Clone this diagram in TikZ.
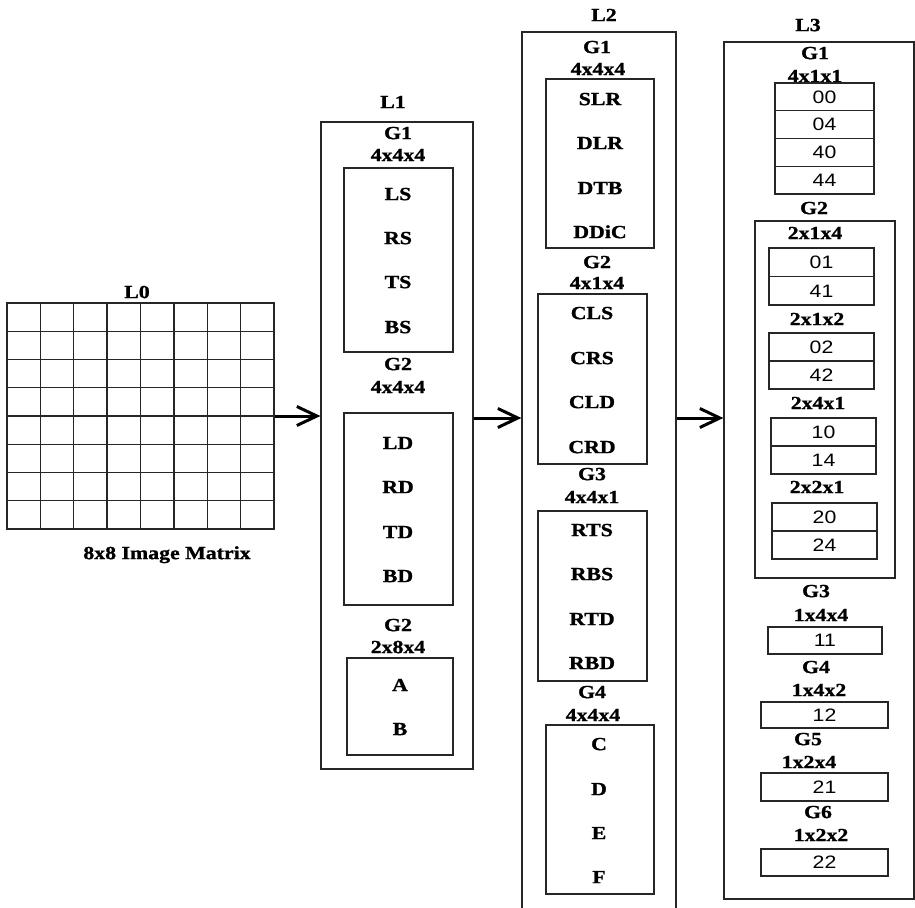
\documentclass[tikz,border=0pt]{standalone}
\usepackage{fontspec}
\setmainfont{Liberation Serif}[FakeStretch=1.18, BoldFeatures={FakeBold=1.2}]
\newfontfamily\numfont{Liberation Sans}[FakeStretch=1.18]
\usetikzlibrary{arrows.meta}
\tikzset{
  lbl/.style={font=\bfseries\fontsize{18.5}{20}\selectfont, inner sep=0pt, text height=12.2pt, text depth=0pt},
  box/.style={draw=black!85, line width=1.3pt, inner sep=0pt, minimum width=#1},
  cell/.style={draw=black!85, line width=1.3pt, inner sep=0pt, font=\numfont\fontsize{18}{20}\selectfont, text height=12.6pt, text depth=0pt},
  arr/.style={line width=3pt, -{Straight Barb[length=20pt,width=19pt]}},
}
\begin{document}
\begin{tikzpicture}[x=1pt,y=-1pt]
\useasboundingbox (0,0) rectangle (915,907);
% L0 grid
\node[box=267pt, minimum height=226pt] (grid) at (140.5,416) {};
\foreach \i in {1,...,7} {
  \draw[line width=1.3pt, black!85] (7+\i*33.375,303) -- ++(0,226);
  \draw[line width=1.3pt, black!85] (7,303+\i*28.25) -- ++(267,0);
}
\node[lbl] (l0) at (137,292) {L0};
\node[lbl] (cap) at (167,553) {8x8 Image Matrix};

% L1
\node[box=152pt, minimum height=647pt] (L1) at (397,445.5) {};
\node[lbl] (l1) at (393,102) {L1};
\node[lbl] (l1g1) at (398,133) {G1};
\node[lbl] (l1g1s) at (398,155) {4x4x4};
\node[box=109pt, minimum height=184pt] (L1a) at (398.5,260) {};
\node[lbl] (ls) at (398,194) {LS};
\node[lbl] (rs) at (398,238) {RS};
\node[lbl] (ts) at (398,282) {TS};
\node[lbl] (bs) at (398,327) {BS};
\node[lbl] (l1g2) at (398,364) {G2};
\node[lbl] (l1g2s) at (398,387) {4x4x4};
\node[box=109pt, minimum height=192pt] (L1b) at (398.5,509) {};
\node[lbl] (ld) at (398,443) {LD};
\node[lbl] (rd) at (398,487) {RD};
\node[lbl] (td) at (398,532) {TD};
\node[lbl] (bd) at (398,576) {BD};
\node[lbl] (l1g3) at (398,625) {G2};
\node[lbl] (l1g3s) at (398,647) {2x8x4};
\node[box=106pt, minimum height=97pt] (L1c) at (400,706.5) {};
\node[lbl] (a) at (400,685) {A};
\node[lbl] (b) at (400,729) {B};

% L2
\node[box=154pt, minimum height=887pt] (L2) at (599,475.5) {};
\node[lbl] (l2) at (604,15) {L2};
\node[lbl] (l2g1) at (597,47) {G1};
\node[lbl] (l2g1s) at (598,69) {4x4x4};
\node[box=108pt, minimum height=169pt] (L2a) at (600,163.5) {};
\node[lbl] (slr) at (600,99) {SLR};
\node[lbl] (dlr) at (600,143) {DLR};
\node[lbl] (dtb) at (600,188) {DTB};
\node[lbl] (ddic) at (600,232) {DDiC};
\node[lbl] (l2g2) at (597,262) {G2};
\node[lbl] (l2g2s) at (597,283) {4x1x4};
\node[box=109pt, minimum height=170pt] (L2b) at (592.5,379) {};
\node[lbl] (cls) at (592,313) {CLS};
\node[lbl] (crs) at (592,358) {CRS};
\node[lbl] (cld) at (592,402) {CLD};
\node[lbl] (crd) at (592,447) {CRD};
\node[lbl] (l2g3) at (592,474) {G3};
\node[lbl] (l2g3s) at (592,497) {4x4x1};
\node[box=109pt, minimum height=170pt] (L2c) at (592.5,596) {};
\node[lbl] (rts) at (592,530) {RTS};
\node[lbl] (rbs) at (592,574) {RBS};
\node[lbl] (rtd) at (592,619) {RTD};
\node[lbl] (rbd) at (592,663) {RBD};
\node[lbl] (l2g4) at (592,692) {G4};
\node[lbl] (l2g4s) at (593,715) {4x4x4};
\node[box=108pt, minimum height=169pt] (L2d) at (600,809.5) {};
\node[lbl] (c) at (599,744) {C};
\node[lbl] (d) at (599,789) {D};
\node[lbl] (e) at (599,833) {E};
\node[lbl] (f) at (599,877) {F};

% L3
\node[box=190pt, minimum height=857pt] (L3) at (819,470.5) {};
\node[lbl] (l3) at (808,25) {L3};
\node[lbl] (l3g1) at (815,53) {G1};
\node[lbl] (l3g1s) at (815,76) {4x1x1};
\foreach \v/\y in {00/96.9, 04/124.6, 40/152.4, 44/180.1}
  \node[cell, minimum width=99pt, minimum height=27.75pt] (n\v) at (824.5,\y) {\v};
\node[lbl] (l3g2) at (814,208) {G2};
\node[box=140pt, minimum height=357pt] (G2b) at (825,399.5) {};
\node[lbl] (s214) at (815,233) {2x1x4};
\node[cell, minimum width=105pt, minimum height=28.5pt] (n01) at (821.5,262.25) {01};
\node[cell, minimum width=105pt, minimum height=28.5pt] (n41) at (821.5,290.75) {41};
\node[lbl] (s212) at (817,319) {2x1x2};
\node[cell, minimum width=105pt, minimum height=28pt] (n02) at (821.5,347) {02};
\node[cell, minimum width=105pt, minimum height=28pt] (n42) at (821.5,375) {42};
\node[lbl] (s241) at (818,403) {2x4x1};
\node[cell, minimum width=105pt, minimum height=28pt] (n10) at (823.5,432) {10};
\node[cell, minimum width=105pt, minimum height=28pt] (n14) at (823.5,460) {14};
\node[lbl] (s221) at (817,487) {2x2x1};
\node[cell, minimum width=105pt, minimum height=28pt] (n20) at (824.5,517) {20};
\node[cell, minimum width=105pt, minimum height=28pt] (n24) at (824.5,545) {24};
\node[lbl] (l3g3) at (816,591) {G3};
\node[lbl] (s144) at (821,615) {1x4x4};
\node[cell, minimum width=114pt, minimum height=27pt] (n11) at (825,640.5) {11};
\node[lbl] (l3g4) at (816,667) {G4};
\node[lbl] (s142) at (819,690) {1x4x2};
\node[cell, minimum width=127pt, minimum height=26pt] (n12) at (824.5,715) {12};
\node[lbl] (l3g5) at (808,739) {G5};
\node[lbl] (s124) at (809,762) {1x2x4};
\node[cell, minimum width=127pt, minimum height=28pt] (n21) at (824.5,787) {21};
\node[lbl] (l3g6) at (818,812) {G6};
\node[lbl] (s122) at (821,835) {1x2x2};
\node[cell, minimum width=127pt, minimum height=27pt] (n22) at (824.5,862.5) {22};

% arrows
\coordinate (ya) at (0,418);
\draw[arr] (grid.east) -- (grid.east -| L1.west);
\draw[arr] (L1.east |- ya) -- (L2.west |- ya);
\draw[arr] (L2.east |- ya) -- (L3.west |- ya);
\end{tikzpicture}
\end{document}
